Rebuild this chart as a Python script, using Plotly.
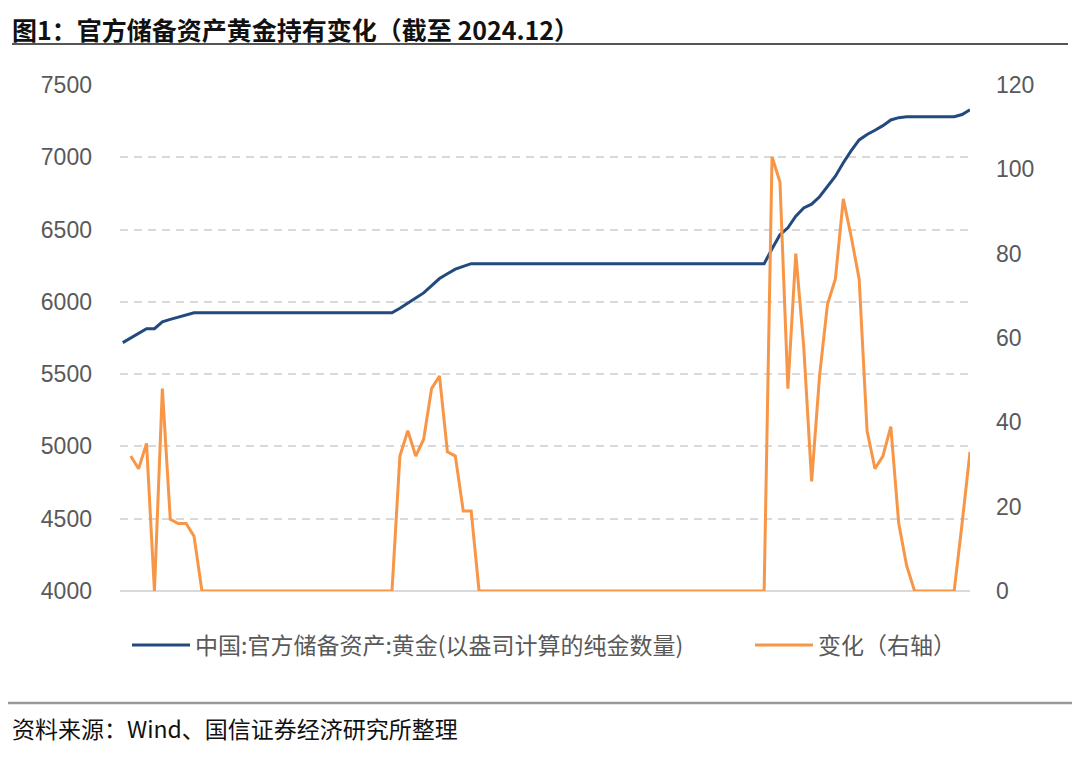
import plotly.graph_objects as go

# monthly, 2016.01 - 2024.12
months = [f"{y}.{m:02d}" for y in range(2016, 2025) for m in range(1, 13)]

# 中国:官方储备资产:黄金 (万盎司)
gold = [
    5718, 5750, 5779, 5814, 5814, 5862, 5879, 5895, 5911, 5924, 5924, 5924,
    5924, 5924, 5924, 5924, 5924, 5924, 5924, 5924, 5924, 5924, 5924, 5924,
    5924, 5924, 5924, 5924, 5924, 5924, 5924, 5924, 5924, 5924, 5924, 5956,
    5994, 6026, 6062, 6110, 6161, 6194, 6226, 6245, 6264, 6264, 6264, 6264,
    6264, 6264, 6264, 6264, 6264, 6264, 6264, 6264, 6264, 6264, 6264, 6264,
    6264, 6264, 6264, 6264, 6264, 6264, 6264, 6264, 6264, 6264, 6264, 6264,
    6264, 6264, 6264, 6264, 6264, 6264, 6264, 6264, 6264, 6264, 6367, 6464,
    6512, 6592, 6650, 6676, 6727, 6795, 6869, 6962, 7046, 7120, 7158, 7187,
    7219, 7258, 7274, 7280, 7280, 7280, 7280, 7280, 7280, 7280, 7296, 7329,
]

# 变化 (右轴)
change = [
    None, 32, 29, 35, 0, 48, 17, 16, 16, 13, 0, 0,
    0, 0, 0, 0, 0, 0, 0, 0, 0, 0, 0, 0,
    0, 0, 0, 0, 0, 0, 0, 0, 0, 0, 0, 32,
    38, 32, 36, 48, 51, 33, 32, 19, 19, 0, 0, 0,
    0, 0, 0, 0, 0, 0, 0, 0, 0, 0, 0, 0,
    0, 0, 0, 0, 0, 0, 0, 0, 0, 0, 0, 0,
    0, 0, 0, 0, 0, 0, 0, 0, 0, 0, 103, 97,
    48, 80, 58, 26, 51, 68, 74, 93, 84, 74, 38, 29,
    32, 39, 16, 6, 0, 0, 0, 0, 0, 0, 16, 33,
]

left_ticks = [4000, 4500, 5000, 5500, 6000, 6500, 7000, 7500]
right_ticks = [0, 20, 40, 60, 80, 100, 120]

num_font = "Liberation Sans, Arial, sans-serif"
cjk_font = "Noto Sans CJK SC, Liberation Sans, sans-serif"

idx = list(range(len(months)))

fig = go.Figure()
fig.add_trace(go.Scatter(
    x=idx, y=gold, mode="lines",
    name="中国:官方储备资产:黄金(以盎司计算的纯金数量)",
    line=dict(color="#224a7e", width=3), legend="legend",
))
fig.add_trace(go.Scatter(
    x=idx, y=change, mode="lines",
    name="变化（右轴）", yaxis="y2",
    line=dict(color="#f79646", width=3), legend="legend2",
))

# the page body adds an 8px margin, so figure px = screen px - 8
OFF = 8
W, H = 1080 - OFF, 757 - OFF
# plot area on screen: left 120, right 970, top 85, bottom 591
L, R, T, B = 120 - OFF, 970 - OFF, 85 - OFF, 591 - OFF
pw, ph = R - L, B - T


def px(x):
    return (x - OFF - L) / pw


def py(y):
    return (B - (y - OFF)) / ph


legend_style = dict(
    orientation="h", xref="container", yref="container",
    y=1 - (645 - OFF) / H, xanchor="left", yanchor="middle",
    font=dict(family=cjk_font, size=23, color="#595959"),
    itemwidth=58, bgcolor="rgba(0,0,0,0)",
)

fig.update_layout(
    width=W, height=H,
    margin=dict(l=L, r=W - R, t=T, b=H - B, autoexpand=False),
    paper_bgcolor="white", plot_bgcolor="white",
    font=dict(family=num_font, size=23, color="#595959"),
    showlegend=True,
    legend=dict(x=(137 - OFF - 10) / W, **legend_style),
    legend2=dict(x=(760 - OFF - 10) / W, **legend_style),
    xaxis=dict(
        range=[-0.35, len(months) - 1], showticklabels=False,
        showgrid=False, zeroline=False, showline=False, ticks="",
    ),
    yaxis=dict(
        range=[4000, 7500], tickvals=left_ticks,
        showgrid=True, gridcolor="#d9d9d9", griddash="8px,6px", gridwidth=1.5,
        zeroline=False, showline=False, ticks="", ticklabelstandoff=27,
        tickfont=dict(family=num_font, size=23, color="#595959"),
    ),
    yaxis2=dict(
        range=[0, 120], tickvals=right_ticks, overlaying="y", side="right",
        showgrid=False, zeroline=False, showline=False, ticks="",
        ticklabelstandoff=25,
        tickfont=dict(family=num_font, size=23, color="#595959"),
    ),
)

# solid baseline at 4000
fig.add_shape(type="line", xref="paper", yref="paper", x0=0, x1=1, y0=0, y1=0,
              line=dict(color="#d9d9d9", width=2), layer="below")
# title rule and footer rule
fig.add_shape(type="line", xref="paper", yref="paper", x0=px(12), x1=px(1068),
              y0=py(44), y1=py(44), line=dict(color="#555555", width=2))
fig.add_shape(type="line", xref="paper", yref="paper", x0=px(8), x1=px(1072),
              y0=py(703), y1=py(703), line=dict(color="#999999", width=2.5))

fig.add_annotation(
    text="<b>图1：官方储备资产黄金持有变化（截至 2024.12）</b>",
    xref="paper", yref="paper", x=px(10), y=py(29),
    xanchor="left", yanchor="middle", showarrow=False,
    font=dict(family=cjk_font, size=25, color="#111111"),
)
fig.add_annotation(
    text="资料来源：Wind、国信证券经济研究所整理",
    xref="paper", yref="paper", x=px(10), y=py(728),
    xanchor="left", yanchor="middle", showarrow=False,
    font=dict(family=cjk_font, size=23, color="#111111"),
)

fig.write_html("out.html")
